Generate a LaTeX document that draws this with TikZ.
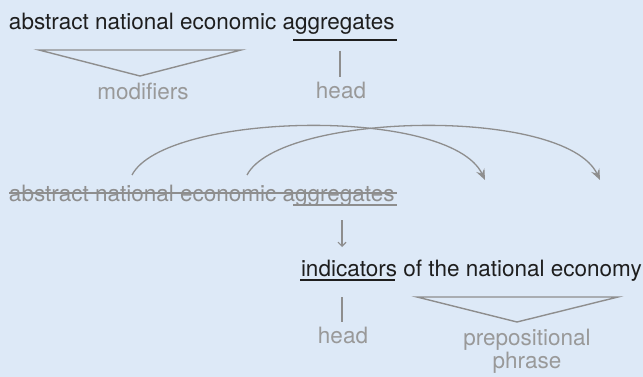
\documentclass[tikz,border=0pt]{standalone}
\usepackage{fontspec}
\setmainfont{TeX Gyre Heros}
\usetikzlibrary{arrows.meta}
\definecolor{bg}{HTML}{DDE9F7}
\definecolor{ink}{HTML}{1E1E1E}
\definecolor{lgray}{HTML}{8E8E8E}
\definecolor{tgray}{HTML}{999999}
\tikzset{
  txt/.style={inner sep=0pt, outer sep=0pt, anchor=base west, text=ink, font=\fontsize{22.5}{21}\selectfont},
  gtxt/.style={txt, text=lgray},
  lbl/.style={inner sep=0pt, outer sep=0pt, anchor=base, text=tgray, align=center, font=\fontsize{22.5}{21}\selectfont},
  gline/.style={draw=lgray, line width=1.4pt},
  uline/.style={draw=ink, line width=1.6pt},
  arc/.style={draw=lgray, line width=1.3pt, -{Stealth[length=11pt, width=9pt, inset=4pt]}},
  darr/.style={draw=lgray, line width=1.1pt, -{Straight Barb[length=4pt, width=8pt]}}
}
\begin{document}
\begin{tikzpicture}[x=1pt, y=-1pt]
\fill[bg] (0,0) rectangle (643,377);
\useasboundingbox (0,0) rectangle (643,377);
% top phrase
\node[txt] (top) at (9,30) {abstract national economic aggregates};
\draw[uline] (293,40) -- (397,40);
\coordinate (m1) at (39,50); \coordinate (m2) at (241,50); \coordinate (m3) at (140,76);
\draw[gline, line join=miter] (m1) -- (m2) -- (m3) -- cycle;
\node[lbl] (mod) at (143,100) {modifiers};
\coordinate (h1) at (340,51); \coordinate (h2) at (340,77);
\draw[gline] (h1) -- (h2);
\node[lbl] (head1) at (341,99) {head};
% middle struck phrase
\node[gtxt] (mid) at (9,202) {abstract national economic aggregates};
\draw[gline] (9,193) -- (397,193);
\draw[gline] (293,205) -- (397,205);
\coordinate (a1s) at (132,175); \coordinate (a1e) at (485,180);
\coordinate (a2s) at (247,175); \coordinate (a2e) at (600,180);
\draw[arc] (a1s) .. controls (165,112) and (450,106) .. (a1e);
\draw[arc] (a2s) .. controls (280,112) and (565,106) .. (a2e);
\coordinate (d1) at (342,220); \coordinate (d2) at (342,247);
\draw[darr] (d1) -- (d2);
% bottom phrase
\node[txt] (bot) at (301,276) {indicators of the national economy};
\draw[uline] (300,280) -- (395,280);
\coordinate (h3) at (342,297); \coordinate (h4) at (342,322);
\draw[gline] (h3) -- (h4);
\node[lbl] (head2) at (343,343) {head};
\coordinate (p1) at (417,297); \coordinate (p2) at (618,297); \coordinate (p3) at (517,322);
\draw[gline, line join=miter] (p1) -- (p2) -- (p3) -- cycle;
\node[lbl, anchor=base] (pp) at (527,368) {prepositional\\phrase};
\end{tikzpicture}
\end{document}
